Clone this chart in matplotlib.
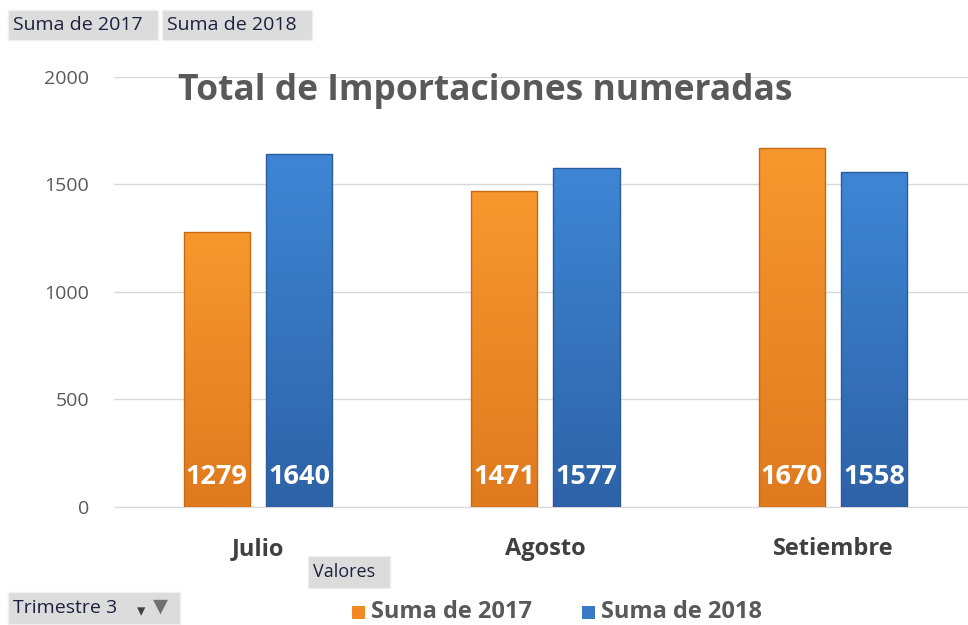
import numpy as np
import matplotlib.pyplot as plt
from matplotlib.patches import Rectangle
from matplotlib.colors import LinearSegmentedColormap

meses = ['Julio', 'Agosto', 'Setiembre']
suma_2017 = [1279, 1471, 1670]
suma_2018 = [1640, 1577, 1558]
series = ['Suma de 2017', 'Suma de 2018']
yticks = [0, 500, 1000, 1500, 2000]

naranja = '#F18A22'
azul = '#3A79C5'
gris_texto = '#595959'

plt.rcParams['font.family'] = ['Open Sans', 'DejaVu Sans']

fig = plt.figure(figsize=(9.68, 6.25), dpi=100)
ax = fig.add_axes([0.118, 0.189, 0.882, 0.688])

x = np.arange(len(meses))
ancho = 0.23
sep = 0.028

grad_nar = LinearSegmentedColormap.from_list('nar', ['#DF7A1E', '#F7982E'])
grad_azu = LinearSegmentedColormap.from_list('azu', ['#2E62A6', '#3E86D5'])

b1 = ax.bar(x - ancho / 2 - sep, suma_2017, ancho, facecolor='none',
            edgecolor='#C86A12', linewidth=1.0, zorder=4)
b2 = ax.bar(x + ancho / 2 + sep, suma_2018, ancho, facecolor='none',
            edgecolor='#2A5C9C', linewidth=1.0, zorder=4)

# degradado vertical dentro de cada barra
degr = np.linspace(0, 1, 256).reshape(-1, 1)
for barras, cmap in ((b1, grad_nar), (b2, grad_azu)):
    for b in barras:
        x0, w, h = b.get_x(), b.get_width(), b.get_height()
        im = ax.imshow(degr, cmap=cmap, origin='lower', aspect='auto',
                       extent=(x0, x0 + w, 0, h), zorder=3)
        im.set_clip_path(b)

# etiquetas de datos, en blanco al pie de cada barra
for barras, vals in ((b1, suma_2017), (b2, suma_2018)):
    for b, v in zip(barras, vals):
        ax.text(b.get_x() + b.get_width() / 2, 140, str(v), ha='center',
                va='center', color='white', fontsize=19.5, fontweight='bold',
                zorder=5)

ax.set_xlim(-0.5, 2.47)
ax.set_ylim(0, 2000)
ax.set_yticks(yticks)
ax.set_xticks(x)
ax.set_xticklabels(meses, fontsize=17, fontweight='bold', color='#404040')
ax.tick_params(axis='y', labelsize=14, labelcolor=gris_texto, length=0, pad=18)
ax.tick_params(axis='x', length=0, pad=22)
ax.yaxis.grid(True, color='#D9D9D9', linewidth=1.0, zorder=0)
for s in ['top', 'right', 'left']:
    ax.spines[s].set_visible(False)
ax.spines['bottom'].set_color('#D9D9D9')

fig.text(0.501, 0.855, 'Total de Importaciones numeradas', ha='center',
         va='center', fontsize=25.5, fontweight='bold', color=gris_texto)

# botones de la tabla dinamica
def boton(x0, y0, w, h, texto, fs=14):
    fig.patches.append(Rectangle((x0 / 968, 1 - (y0 + h) / 625), w / 968, h / 625,
                                 transform=fig.transFigure, facecolor='#DCDCDC',
                                 edgecolor='#EFEFEF', linewidth=1))
    fig.text((x0 + 5) / 968, 1 - (y0 + h / 2) / 625, texto, ha='left',
             va='center', fontsize=fs, color='#1F1F3F')

boton(8, 10, 150, 30, 'Suma de 2017')
boton(162, 10, 150, 30, 'Suma de 2018')
boton(308, 556, 82, 32, 'Valores', fs=13)
boton(8, 592, 172, 32, 'Trimestre 3', fs=14)
fig.text(141 / 968, 1 - 612 / 625, '\u25be', ha='center', va='center',
         fontsize=12, color='#404040')
fig.text(160 / 968, 1 - 607 / 625, '\u25bc', ha='center', va='center',
         fontsize=14, color='#707070')

# leyenda
for i, (nom, col) in enumerate(zip(series, [naranja, azul])):
    x0 = 352 + i * 230
    fig.patches.append(Rectangle((x0 / 968, 1 - 619 / 625), 13 / 968, 13 / 625,
                                 transform=fig.transFigure, facecolor=col,
                                 edgecolor='none'))
    fig.text((x0 + 19) / 968, 1 - 612 / 625, nom, ha='left', va='center',
             fontsize=17, fontweight='bold', color=gris_texto)

fig.savefig('out.png', dpi=100)
